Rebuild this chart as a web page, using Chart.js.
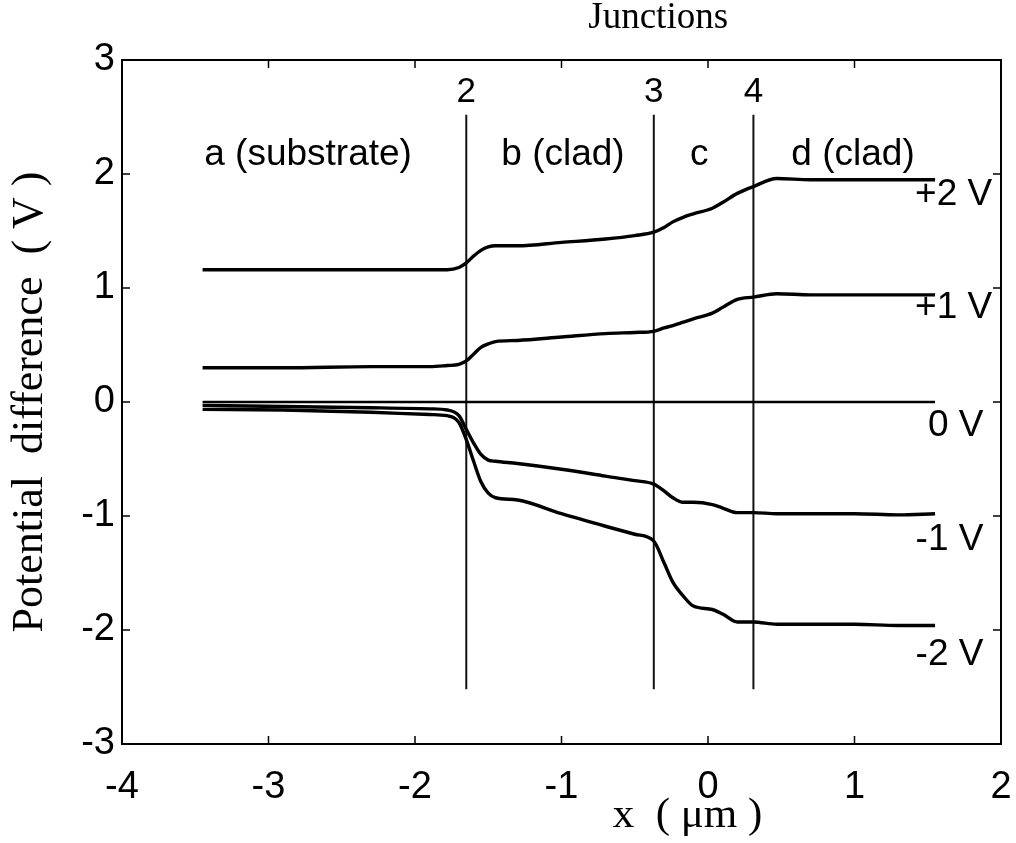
<!DOCTYPE html>
<html>
<head>
<meta charset="UTF-8">
<title>Potential difference across junctions</title>
<script src="https://cdn.jsdelivr.net/npm/chart.js@4/dist/chart.umd.min.js"></script>
<style>
  body { margin: 0; background: #fff; }
  canvas { display: block; }
</style>
</head>
<body>
<canvas id="chart" width="1016" height="843"></canvas>
<script>
// sample positions along x (um)
var xPos = [-3.45, -2.9, -2.3, -1.9, -1.78, -1.7, -1.65, -1.6, -1.55, -1.5, -1.45, -1.3, -1.0, -0.7, -0.5,
            -0.37, -0.3, -0.24, -0.17, -0.1, 0.03, 0.1, 0.2, 0.31, 0.47, 0.7, 1.0, 1.3, 1.55];

// potential difference (V) for each applied bias
var plus2V  = [1.16, 1.16, 1.16, 1.16, 1.16, 1.18, 1.22, 1.28, 1.33, 1.36, 1.37, 1.37, 1.40, 1.43, 1.46,
               1.49, 1.53, 1.58, 1.62, 1.65, 1.70, 1.75, 1.83, 1.89, 1.96, 1.95, 1.95, 1.95, 1.95];
var plus1V  = [0.30, 0.30, 0.31, 0.31, 0.32, 0.33, 0.36, 0.42, 0.48, 0.51, 0.53, 0.54, 0.57, 0.60, 0.61,
               0.62, 0.65, 0.67, 0.70, 0.73, 0.78, 0.83, 0.90, 0.92, 0.95, 0.94, 0.94, 0.94, 0.94];
var zeroV   = [0, 0, 0, 0, 0, 0, 0, 0, 0, 0, 0, 0, 0, 0, 0,
               0, 0, 0, 0, 0, 0, 0, 0, 0, 0, 0, 0, 0, 0];
var minus1V = [-0.03, -0.04, -0.05, -0.06, -0.07, -0.12, -0.24, -0.36, -0.46, -0.51, -0.52, -0.54, -0.59, -0.65, -0.69,
               -0.72, -0.78, -0.84, -0.88, -0.88, -0.90, -0.93, -0.97, -0.97, -0.98, -0.98, -0.98, -0.99, -0.98];
var minus2V = [-0.065, -0.07, -0.09, -0.11, -0.12, -0.18, -0.33, -0.52, -0.70, -0.80, -0.84, -0.86, -0.98, -1.09, -1.16,
               -1.22, -1.41, -1.58, -1.70, -1.79, -1.82, -1.86, -1.93, -1.93, -1.95, -1.95, -1.95, -1.96, -1.96];

var seriesNames = ['+2 V', '+1 V', '0 V', '-1 V', '-2 V'];
var seriesValues = [plus2V, plus1V, zeroV, minus1V, minus2V];
var seriesLabelY = [1.82, 0.83, -0.21, -1.21, -2.22];
var seriesLabelX = [1.94, 1.94, 1.88, 1.88, 1.88];

// junction lines and layer regions
var junctionX = [-1.65, -0.37, 0.31];
var junctionNames = ['2', '3', '4'];
var junctionSpan = [-2.52, 2.52];
var regionNames = ['a (substrate)', 'b (clad)', 'c', 'd (clad)'];
var regionX = [-2.73, -0.99, -0.06, 0.99];

var xTicks = [-4, -3, -2, -1, 0, 1, 2];
var yTicks = [-3, -2, -1, 0, 1, 2, 3];

var SANS = "'Liberation Sans', Arial, sans-serif";
var SERIF = "'Liberation Serif', 'Times New Roman', serif";

var datasets = [];
seriesValues.forEach(function (vals, i) {
  datasets.push({
    label: seriesNames[i],
    data: xPos.map(function (x, k) { return { x: x, y: vals[k] }; }),
    borderColor: '#000',
    borderWidth: i === 2 ? 2.5 : 3.4,
    pointRadius: 0,
    cubicInterpolationMode: 'monotone',
    fill: false
  });
});
junctionX.forEach(function (x, i) {
  datasets.push({
    label: 'junction ' + junctionNames[i],
    data: [{ x: x, y: junctionSpan[0] }, { x: x, y: junctionSpan[1] }],
    borderColor: '#111',
    borderWidth: 2,
    pointRadius: 0,
    fill: false
  });
});

// box, inward ticks and the text labels drawn on top of the plot
var annotate = {
  id: 'annotate',
  afterDatasetsDraw: function (chart) {
    var ctx = chart.ctx, a = chart.chartArea;
    var xs = chart.scales.x, ys = chart.scales.y;
    ctx.save();
    ctx.strokeStyle = '#000';
    ctx.lineWidth = 2;
    ctx.strokeRect(a.left, a.top, a.right - a.left, a.bottom - a.top);
    ctx.lineWidth = 1.5;
    ctx.beginPath();
    xTicks.forEach(function (v) {
      var px = xs.getPixelForValue(v);
      ctx.moveTo(px, a.bottom); ctx.lineTo(px, a.bottom - 8);
      ctx.moveTo(px, a.top); ctx.lineTo(px, a.top + 8);
    });
    yTicks.forEach(function (v) {
      var py = ys.getPixelForValue(v);
      ctx.moveTo(a.left, py); ctx.lineTo(a.left + 8, py);
      ctx.moveTo(a.right, py); ctx.lineTo(a.right - 8, py);
    });
    ctx.stroke();

    ctx.fillStyle = '#000';
    ctx.textBaseline = 'middle';
    ctx.textAlign = 'center';

    ctx.font = '35px ' + SANS;
    junctionX.forEach(function (x, i) {
      ctx.fillText(junctionNames[i], xs.getPixelForValue(x), ys.getPixelForValue(2.72));
    });
    ctx.font = '37px ' + SANS;
    regionNames.forEach(function (t, i) {
      ctx.fillText(t, xs.getPixelForValue(regionX[i]), ys.getPixelForValue(2.17));
    });

    ctx.textAlign = 'right';
    seriesNames.forEach(function (t, i) {
      ctx.fillText(t, xs.getPixelForValue(seriesLabelX[i]), ys.getPixelForValue(seriesLabelY[i]));
    });

    ctx.textAlign = 'center';
    ctx.font = '37px ' + SERIF;
    ctx.fillText('Junctions', xs.getPixelForValue(-0.34), 18);
    ctx.font = '43px ' + SERIF;
    ctx.fillText('x  ( \u03bcm )', xs.getPixelForValue(-0.14), 816);
    ctx.restore();
  }
};

new Chart(document.getElementById('chart'), {
  type: 'line',
  data: { datasets: datasets },
  options: {
    responsive: false,
    animation: false,
    layout: { padding: { top: 60, right: 15, left: 0, bottom: 0 } },
    plugins: { legend: { display: false }, tooltip: { enabled: false } },
    scales: {
      x: {
        type: 'linear', min: -4, max: 2,
        afterBuildTicks: function (s) { s.ticks = xTicks.map(function (v) { return { value: v }; }); },
        afterFit: function (s) { s.height = 99; s.paddingLeft = 0; s.paddingRight = 0; },
        grid: { display: false, drawTicks: false },
        border: { display: false },
        ticks: { color: '#000', padding: 21, maxRotation: 0, font: { family: SANS, size: 38 } }
      },
      y: {
        type: 'linear', min: -3, max: 3,
        afterBuildTicks: function (s) { s.ticks = yTicks.map(function (v) { return { value: v }; }); },
        afterFit: function (s) { s.width = 122; s.paddingTop = 0; s.paddingBottom = 0; },
        grid: { display: false, drawTicks: false },
        border: { display: false },
        ticks: { color: '#000', padding: 7, font: { family: SANS, size: 38 } },
        title: {
          display: true,
          text: 'Potential  difference  ( V )',
          color: '#000',
          padding: 4,
          font: { family: SERIF, size: 44, weight: 'normal' }
        }
      }
    }
  },
  plugins: [annotate]
});
</script>
</body>
</html>
